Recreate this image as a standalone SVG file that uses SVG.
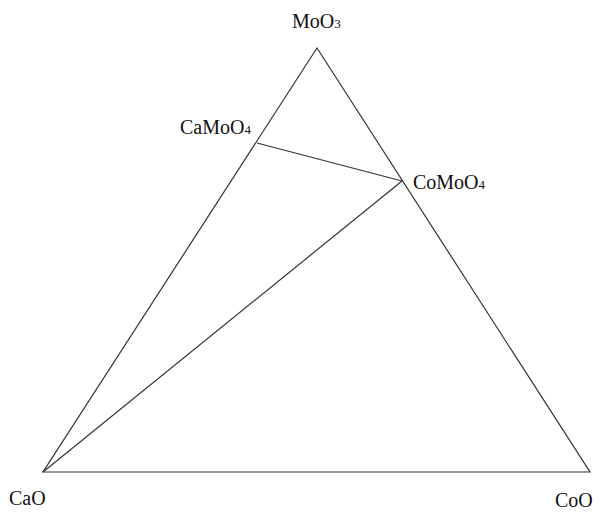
<svg xmlns="http://www.w3.org/2000/svg" width="613" height="512" viewBox="0 0 613 512">
<style>
.l{stroke:#333;stroke-width:1.2;fill:none}
.t{font-family:"Liberation Serif","Times New Roman",serif;font-size:20px;fill:#111}
.s{font-size:13px}
</style>
<rect width="613" height="512" fill="#fff"/>
<g id="connectors">
<polygon class="l" points="317,48 43,472 590,472"/>
<line class="l" x1="257" y1="143" x2="402" y2="181"/>
<line class="l" x1="43" y1="472" x2="402" y2="181"/>
</g>
<g id="MoO3"><text class="t" x="292" y="28">MoO<tspan class="s">3</tspan></text></g>
<g id="CaMoO4"><text class="t" x="180" y="134">CaMoO<tspan class="s">4</tspan></text></g>
<g id="CoMoO4"><text class="t" x="413" y="189">CoMoO<tspan class="s">4</tspan></text></g>
<g id="CaO"><text class="t" x="9" y="505">CaO</text></g>
<g id="CoO"><text class="t" x="555" y="507">CoO</text></g>
</svg>
